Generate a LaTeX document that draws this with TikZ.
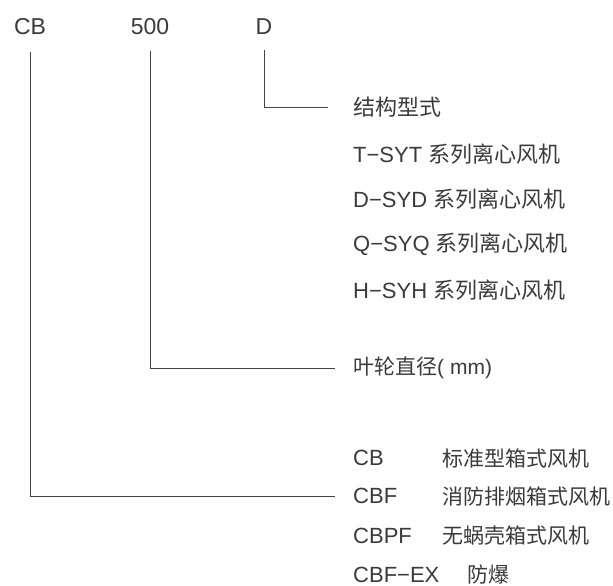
\documentclass[tikz,border=0pt]{standalone}
\usepackage{fontspec}
\setmainfont{Liberation Sans}
\newfontfamily\cjk{Noto Sans CJK SC}
\definecolor{txt}{HTML}{3A3A3A}
\definecolor{ln}{HTML}{444444}
\begin{document}
\begin{tikzpicture}[x=1pt,y=-1pt,
  code/.style={inner sep=0pt,text=txt,font=\fontsize{23}{26}\selectfont},
  lab/.style={inner sep=0pt,anchor=west,text=txt,font=\fontsize{22}{26}\selectfont},
  labs/.style={lab,font=\fontsize{21}{25}\selectfont},
  conn/.style={draw=ln,line width=0.9pt}]
\useasboundingbox (0,0) rectangle (613,586);
% top code
\node[code] (cb) at (30,27) {CB};
\node[code] (n500) at (150,27) {500};
\node[code] (d) at (264,27) {D};
% right labels
\node[lab] (jg) at (353,107) {\cjk 结构型式};
\node[lab] (t) at (353,154) {T−SYT {\cjk 系列离心风机}};
\node[lab] (ds) at (353,199) {D−SYD {\cjk 系列离心风机}};
\node[lab] (q) at (353,244) {Q−SYQ {\cjk 系列离心风机}};
\node[lab] (h) at (353,290) {H−SYH {\cjk 系列离心风机}};
\node[labs] (yl) at (353,368) {{\cjk 叶轮直径}( mm)};
\node[lab] (c1) at (353,458) {CB};
\node[labs] (c1d) at (442,458) {\cjk 标准型箱式风机};
\node[lab] (c2) at (353,496) {CBF};
\node[labs] (c2d) at (442,496) {\cjk 消防排烟箱式风机};
\node[lab] (c3) at (353,536) {CBPF};
\node[labs] (c3d) at (442,536) {\cjk 无蜗壳箱式风机};
\node[lab] (c4) at (353,575) {CBF−EX};
\node[labs] (c4d) at (467,575) {\cjk 防爆};
% connectors
\coordinate (cbt) at ([yshift=-17pt]cb.south);
\coordinate (n5t) at ([yshift=-16pt]n500.south);
\coordinate (dt) at ([yshift=-15pt]d.south);
\draw[conn] (cbt) |- ([xshift=-18pt]c2.west);
\draw[conn] (n5t) |- ([xshift=-18pt]yl.west);
\draw[conn] (dt) |- ([xshift=-25pt]jg.west);
\end{tikzpicture}
\end{document}
